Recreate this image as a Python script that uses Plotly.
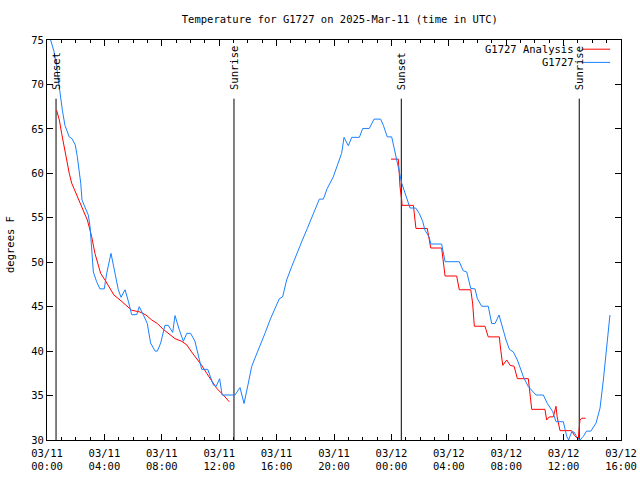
import pandas as pd
import plotly.graph_objects as go

BASE = pd.Timestamp("2025-03-11 00:00")

# Observations (hours after 03/11 00:00 UTC, degrees F)
obs_hours = [0.0, 0.26, 0.49, 0.67, 0.86, 0.95, 1.07, 1.25, 1.55, 1.74, 1.97, 2.11, 2.25, 2.35, 2.44,
             2.67, 2.88, 3.0, 3.04, 3.14, 3.23, 3.46, 3.69, 3.99, 4.16, 4.46, 4.74, 4.97, 5.16, 5.44,
             5.67, 5.90, 6.25, 6.43, 6.71, 6.99, 7.22, 7.53, 7.69, 7.92, 8.22, 8.45, 8.76, 8.92, 9.22,
             9.50, 9.74, 10.01, 10.31, 10.55, 10.78, 11.2, 11.36, 11.59, 11.78, 12.03, 12.2, 13.1, 13.45,
             13.73, 14.03, 14.26, 14.49, 14.84, 15.19, 15.54, 15.89, 16.19, 16.42, 16.70, 17.05, 17.40,
             17.75, 18.14, 18.56, 18.98, 19.26, 19.53, 19.95, 20.3, 20.53, 20.7, 21.0, 21.23, 21.77,
             22.0, 22.46, 22.79, 23.25, 23.44, 23.71, 24.02, 24.25, 24.48, 24.72, 25.07, 25.3, 25.69,
             25.94, 26.18, 26.34, 26.64, 26.74, 27.5, 27.74, 28.73, 29.0, 29.25, 29.53, 29.83, 29.99,
             30.29, 30.75, 30.99, 31.22, 31.5, 31.76, 31.99, 32.22, 32.5, 32.78, 33.2, 33.54, 34.08,
             34.59, 34.87, 35.24, 35.47, 35.98, 36.22, 36.35, 36.56, 36.72, 36.91, 37.14, 37.37, 37.6,
             37.9, 38.26, 38.54, 38.77, 39.0, 39.23]
obs_temps = [76.4, 75.0, 73.7, 72.0, 69.6, 68.6, 67.1, 65.4, 64.1, 63.9, 63.2, 61.9, 60.4, 58.9, 57.0,
             56.2, 55.3, 54.0, 52.9, 51.4, 48.9, 47.8, 47.0, 47.0, 48.75, 51.0, 48.75, 46.9, 46.05, 46.9,
             45.6, 44.1, 44.1, 45.0, 44.1, 43.1, 40.9, 40.0, 40.0, 40.9, 42.9, 42.9, 42.1, 44.0, 42.4,
             41.1, 42.0, 42.0, 41.1, 39.6, 37.95, 37.95, 37.3, 36.2, 36.0, 36.9, 35.06, 35.06, 35.9,
             34.1, 36.4, 38.25, 39.2, 40.5, 42.0, 43.5, 44.8, 45.9, 46.1, 48.0, 49.5, 50.8,
             52.3, 53.8, 55.5, 57.1, 57.1, 58.3, 59.6, 61.1, 62.25, 64.05, 63.1, 64.05, 64.05,
             65.05, 65.05, 66.1, 66.1, 65.4, 64.1, 64.1, 62.25, 60.4, 58.9, 57.2, 56.1, 56.1,
             55.5, 54.6, 53.6, 52.8, 52.05, 52.05, 50.06, 50.06, 49.05, 48.9, 47.05, 47.0, 45.9,
             45.05, 45.05, 43.1, 43.1, 44.06, 42.4, 41.25, 40.2, 39.9, 39.0, 37.1, 36.0, 35.06,
             35.06, 34.1, 33.2, 32.06, 32.06, 30.4, 30.0, 30.9, 30.9, 30.4, 30.0, 30.4, 31.0,
             31.0, 31.9, 33.6, 36.75, 40.5, 44.06]

# Analysis, first night
ana1_hours = [0.67, 0.86, 1.02, 1.18, 1.37, 1.55, 1.72, 2.02, 2.3, 2.58, 2.81, 3.0, 3.11, 3.34, 3.51,
              3.74, 4.04, 4.39, 4.67, 5.09, 5.5, 5.9, 6.48, 6.9, 7.3, 7.69, 8.1, 8.57, 8.92, 9.39,
              9.74, 10.08, 10.43, 10.78, 11.13, 11.48, 11.83, 12.29, 12.7]
ana1_temps = [67.1, 66.0, 64.5, 63.2, 61.3, 60.0, 58.9, 57.75, 56.8, 55.7, 54.75, 53.6, 52.9, 51.0, 49.9,
              48.75, 48.0, 47.1, 46.3, 45.75, 45.2, 44.6, 44.4, 44.06, 43.5, 43.1, 42.45, 41.9, 41.4, 41.1,
              40.7, 39.9, 39.2, 38.4, 37.5, 36.6, 35.8, 35.06, 34.3]

# Analysis, second night
ana2_hours = [23.97, 24.48, 24.52, 24.6, 24.72, 24.74, 25.53, 25.62, 25.71, 26.5, 26.6, 26.74, 27.5,
              27.62, 27.74, 28.55, 28.69, 28.73, 29.53, 29.66, 29.78, 30.52, 30.75, 31.52, 31.62,
              31.76, 32.04, 32.27, 32.55, 32.78, 33.54, 33.66, 33.78, 34.7, 34.82, 35.0, 35.28,
              35.47, 35.55, 35.75, 36.56, 36.74, 37.02, 37.14, 37.26, 37.54]
ana2_temps = [61.6, 61.6, 60.75, 58.5, 57.0, 56.4, 56.4, 55.05, 53.8, 53.8, 52.9, 51.6, 51.6,
              49.9, 48.45, 48.45, 47.0, 46.9, 46.9, 45.4, 42.8, 42.8, 41.6, 41.6, 40.1,
              38.4, 39.0, 38.4, 38.3, 36.9, 36.9, 35.25, 33.45, 33.45, 32.25, 32.6, 32.6,
              33.8, 32.6, 31.05, 31.05, 30.55, 30.1, 32.25, 32.45, 32.45]

# Sun events
event_names = ["Sunset", "Sunrise", "Sunset", "Sunrise"]
event_hours = [0.63, 13.03, 24.69, 37.09]
event_line_top = 68.4
event_label_bottom = 69.15

# Axis ticks
tick_hours = [0, 4, 8, 12, 16, 20, 24, 28, 32, 36, 40]
tick_labels = ["03/11<br>00:00", "03/11<br>04:00", "03/11<br>08:00", "03/11<br>12:00",
               "03/11<br>16:00", "03/11<br>20:00", "03/12<br>00:00", "03/12<br>04:00",
               "03/12<br>08:00", "03/12<br>12:00", "03/12<br>16:00"]
y_ticks = [30, 35, 40, 45, 50, 55, 60, 65, 70, 75]


def to_time(hours):
    return [BASE + pd.Timedelta(hours=h) for h in hours]


FONT = "DejaVu Sans Mono"
FS = 10.5
RED = "#ff0000"
BLUE = "#1a80ff"

fig = go.Figure()
for name, h in zip(event_names, event_hours):
    tt = to_time([h, h])
    fig.add_trace(go.Scatter(x=tt, y=[30, event_line_top], mode="lines",
                             line=dict(color="black", width=1), hoverinfo="skip"))
    fig.add_annotation(x=tt[0], y=event_label_bottom, xref="x", yref="y", text=name,
                       textangle=-90, showarrow=False, xanchor="center", yanchor="bottom",
                       font=dict(family=FONT, size=FS, color="black"))

fig.add_trace(go.Scatter(x=to_time(ana1_hours), y=ana1_temps, mode="lines",
                         line=dict(color=RED, width=1), name="G1727 Analysis"))
fig.add_trace(go.Scatter(x=to_time(ana2_hours), y=ana2_temps, mode="lines",
                         line=dict(color=RED, width=1), name="G1727 Analysis"))
fig.add_trace(go.Scatter(x=to_time(obs_hours), y=obs_temps, mode="lines",
                         line=dict(color=BLUE, width=1), name="G1727"))

# manual gnuplot-style legend
legend_items = [("G1727 Analysis", RED), ("G1727", BLUE)]
legend_y = [0.977, 0.944]
for (label, color), ly in zip(legend_items, legend_y):
    fig.add_annotation(x=0.9216, y=ly, xref="paper", yref="paper", text=label, showarrow=False,
                       xanchor="right", yanchor="middle",
                       font=dict(family=FONT, size=FS, color="black"))
    fig.add_shape(type="line", xref="paper", yref="paper", x0=0.9315, x1=0.981, y0=ly, y1=ly,
                  line=dict(color=color, width=1))

fig.add_annotation(x=-0.0645, y=0.49, xref="paper", yref="paper", text="degrees F",
                   textangle=-90, showarrow=False, xanchor="center", yanchor="middle",
                   font=dict(family=FONT, size=FS, color="black"))

fig.update_layout(
    width=640, height=480,
    margin=dict(l=47, r=19, t=40, b=40, autoexpand=False),
    paper_bgcolor="white", plot_bgcolor="white",
    showlegend=False,
    font=dict(family=FONT, size=FS, color="black"),
    title=dict(text="Temperature for G1727 on 2025-Mar-11 (time in UTC)",
               x=0.531, xref="container", xanchor="center",
               y=0.96, yref="container", yanchor="middle",
               font=dict(family=FONT, size=FS, color="black")),
    xaxis=dict(type="date", range=[BASE, BASE + pd.Timedelta(hours=40)],
               tickmode="array", tickvals=to_time(tick_hours), ticktext=tick_labels,
               ticks="inside", ticklen=6, tickcolor="black", tickwidth=1,
               ticklabelstandoff=3,
               minor=dict(ticks="inside", ticklen=3, dtick=3600000, tick0=BASE,
                          tickcolor="black", tickwidth=1, showgrid=False),
               showline=True, linecolor="black", linewidth=1, mirror="allticks",
               showgrid=False, zeroline=False, fixedrange=True, automargin=False),
    yaxis=dict(range=[30, 75], tickmode="array", tickvals=y_ticks,
               ticks="inside", ticklen=6, tickcolor="black", tickwidth=1,
               showline=True, linecolor="black", linewidth=1, mirror="allticks",
               showgrid=False, zeroline=False, fixedrange=True, automargin=False),
)

fig.write_html("out.html", config={"displayModeBar": False},
               post_script="document.body.style.margin='0';document.body.style.overflow='hidden';")
